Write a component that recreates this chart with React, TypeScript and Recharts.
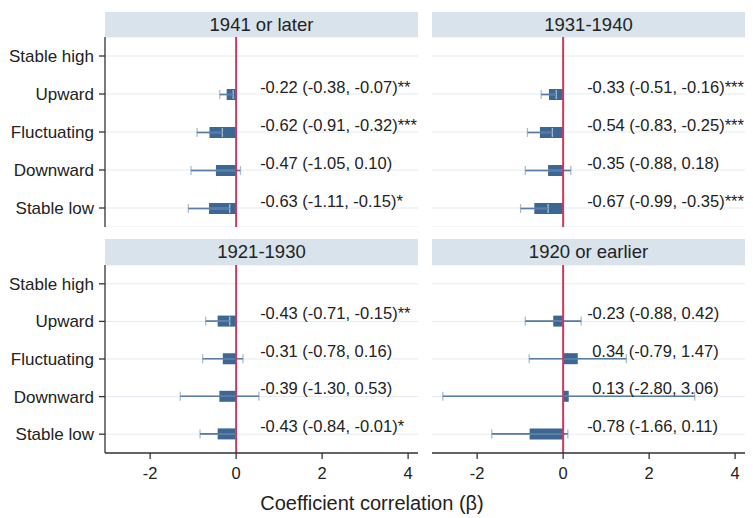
import React from 'react';
import {
  BarChart,
  Bar,
  XAxis,
  YAxis,
  CartesianGrid,
  ReferenceLine,
  ErrorBar,
  LabelList,
} from 'recharts';

// Trajectory groups (Stable high is the reference group, so it has no estimate)
const categories = ['Stable high', 'Upward', 'Fluctuating', 'Downward', 'Stable low'];

// Birth cohorts, one panel each
const cohortTitles = ['1941 or later', '1931-1940', '1921-1930', '1920 or earlier'];

// Coefficients, 95% CI bounds and significance stars per cohort
const beta1941 = [null, -0.22, -0.62, -0.47, -0.63];
const lower1941 = [null, -0.38, -0.91, -1.05, -1.11];
const upper1941 = [null, -0.07, -0.32, 0.1, -0.15];
const stars1941 = ['', '**', '***', '', '*'];

const beta1931 = [null, -0.33, -0.54, -0.35, -0.67];
const lower1931 = [null, -0.51, -0.83, -0.88, -0.99];
const upper1931 = [null, -0.16, -0.25, 0.18, -0.35];
const stars1931 = ['', '***', '***', '', '***'];

const beta1921 = [null, -0.43, -0.31, -0.39, -0.43];
const lower1921 = [null, -0.71, -0.78, -1.3, -0.84];
const upper1921 = [null, -0.15, 0.16, 0.53, -0.01];
const stars1921 = ['', '**', '', '', '*'];

const beta1920 = [null, -0.23, 0.34, 0.13, -0.78];
const lower1920 = [null, -0.88, -0.79, -2.8, -1.66];
const upper1920 = [null, 0.42, 1.47, 3.06, 0.11];
const stars1920 = ['', '', '', '', ''];

const xTicks = [-2, 0, 2, 4];
const xDomain: [number, number] = [-3.05, 4.23];
const axisTitle = 'Coefficient correlation (β)';

const FONT = '"Liberation Sans", Arial, Helvetica, sans-serif';
const BAR_COLOR = '#3c6693';
const ZERO_COLOR = '#cb3a5e';
const HEADER_BG = '#d9e3ec';
const GRID_COLOR = '#e4ebf1';
const AXIS_COLOR = '#333333';
const TEXT_COLOR = '#222222';

type Row = {
  cat: string;
  beta: number | null;
  ci: [number, number] | null;
  label: string;
};

const fmt = (v: number) => v.toFixed(2);

function buildRows(
  beta: (number | null)[],
  lower: (number | null)[],
  upper: (number | null)[],
  stars: string[],
): Row[] {
  return categories.map((cat, i) => {
    const b = beta[i];
    const lo = lower[i];
    const hi = upper[i];
    if (b == null || lo == null || hi == null) {
      return { cat, beta: null, ci: null, label: '' };
    }
    return {
      cat,
      beta: b,
      ci: [b - lo, hi - b],
      label: `${fmt(b)} (${fmt(lo)}, ${fmt(hi)})${stars[i]}`,
    };
  });
}

const panels = [
  { title: cohortTitles[0], rows: buildRows(beta1941, lower1941, upper1941, stars1941), col: 0, row: 0 },
  { title: cohortTitles[1], rows: buildRows(beta1931, lower1931, upper1931, stars1931), col: 1, row: 0 },
  { title: cohortTitles[2], rows: buildRows(beta1921, lower1921, upper1921, stars1921), col: 0, row: 1 },
  { title: cohortTitles[3], rows: buildRows(beta1920, lower1920, upper1920, stars1920), col: 1, row: 1 },
];

// Layout of the 2x2 grid (page pixels)
const PLOT_W = 313;
const PLOT_LEFT = [105, 432];
const HEADER_TOP = [12, 239];
const HEADER_H = [25, 26];
const PLOT_H = [190, 188];
const Y_AXIS_W = 105;
const X_AXIS_H = 50;

// Value labels sit a fixed distance to the right of the zero line
function makeLabelRenderer(rows: Row[]) {
  return (props: any) => {
    const { value } = props;
    const row = rows.find((r) => r.label && r.label === value);
    if (!row || row.beta == null) return null;
    const vb = props.viewBox ?? props;
    const x = Number(vb.x);
    const w = Number(vb.width);
    const y = Number(vb.y);
    const h = Number(vb.height);
    const neg = row.beta < 0;
    const zeroX = neg ? Math.max(x, x + w) : Math.min(x, x + w);
    const tx = zeroX + (neg ? 24 : 29);
    const ty = y + h / 2 - 2;
    return (
      <text x={tx} y={ty} fontSize={16.5} fill={TEXT_COLOR} fontFamily={FONT} textAnchor="start">
        {row.label}
      </text>
    );
  };
}

function Panel({ title, rows, col, row }: { title: string; rows: Row[]; col: number; row: number }) {
  const showY = col === 0;
  const showX = row === 1;
  const plotLeft = PLOT_LEFT[col];
  const plotTop = HEADER_TOP[row] + HEADER_H[row];
  const chartLeft = showY ? plotLeft - Y_AXIS_W : plotLeft;
  const chartW = (showY ? Y_AXIS_W : 0) + PLOT_W + 2;
  const chartH = PLOT_H[row] + (showX ? X_AXIS_H : 0);

  return (
    <>
      <div
        style={{
          position: 'absolute',
          left: plotLeft,
          top: HEADER_TOP[row],
          width: PLOT_W,
          height: HEADER_H[row],
          background: HEADER_BG,
          color: TEXT_COLOR,
          fontFamily: FONT,
          fontSize: 18.5,
          lineHeight: `${HEADER_H[row]}px`,
          textAlign: 'center',
        }}
      >
        {title}
      </div>
      <div style={{ position: 'absolute', left: chartLeft, top: plotTop }}>
        <BarChart
          width={chartW}
          height={chartH}
          data={rows}
          layout="vertical"
          margin={{ top: 0, right: 2, bottom: 0, left: 0 }}
          barSize={11}
        >
          <CartesianGrid vertical={false} stroke={GRID_COLOR} strokeWidth={1} />
          <XAxis
            type="number"
            domain={xDomain}
            ticks={xTicks}
            allowDataOverflow
            hide={!showX}
            height={X_AXIS_H}
            axisLine={{ stroke: AXIS_COLOR, strokeWidth: 1.3 }}
            tickLine={{ stroke: AXIS_COLOR, strokeWidth: 1.3 }}
            tickSize={6}
            tickMargin={8}
            tick={{ fontSize: 16.5, fill: TEXT_COLOR, fontFamily: FONT }}
          />
          <YAxis
            type="category"
            dataKey="cat"
            hide={!showY}
            width={Y_AXIS_W}
            axisLine={{ stroke: AXIS_COLOR, strokeWidth: 1.3 }}
            tickLine={{ stroke: AXIS_COLOR, strokeWidth: 1.3 }}
            tickSize={6}
            tickMargin={5}
            tick={{ fontSize: 17, fill: TEXT_COLOR, fontFamily: FONT }}
            interval={0}
          />
          <Bar dataKey="beta" fill={BAR_COLOR} isAnimationActive={false}>
            <ErrorBar
              dataKey="ci"
              direction="x"
              width={4.5}
              stroke="#aabdd0"
              strokeWidth={1.3}
              isAnimationActive={false}
            />
            <ErrorBar
              dataKey="ci"
              direction="x"
              width={0}
              stroke="#587ca3"
              strokeWidth={1.6}
              isAnimationActive={false}
            />
            <LabelList dataKey="label" content={makeLabelRenderer(rows)} />
          </Bar>
          <ReferenceLine x={0} stroke={ZERO_COLOR} strokeWidth={2} ifOverflow="extendDomain" />
        </BarChart>
      </div>
    </>
  );
}

export default function App() {
  return (
    <div
      style={{
        position: 'absolute',
        left: 0,
        top: 0,
        width: 753,
        height: 518,
        background: '#ffffff',
        overflow: 'hidden',
        fontFamily: FONT,
      }}
    >
      {panels.map((p) => (
        <Panel key={p.title} title={p.title} rows={p.rows} col={p.col} row={p.row} />
      ))}
      <svg
        width={753}
        height={518}
        style={{ position: 'absolute', left: 0, top: 0, pointerEvents: 'none' }}
      >
        <text x={372} y={510} textAnchor="middle" fontSize={20} fill={TEXT_COLOR} fontFamily={FONT}>
          {axisTitle}
        </text>
      </svg>
    </div>
  );
}
